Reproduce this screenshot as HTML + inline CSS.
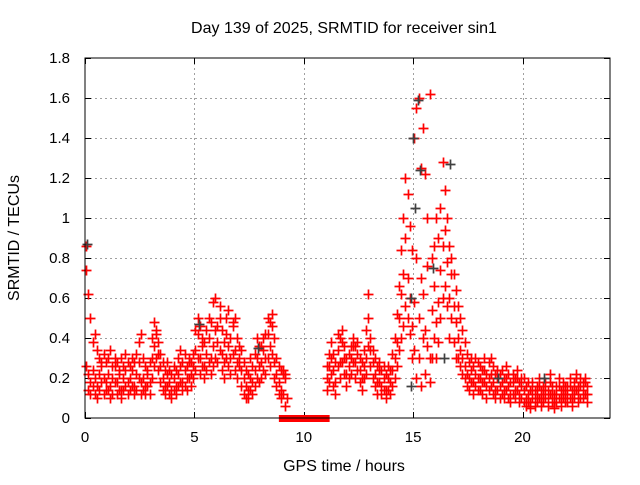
<!DOCTYPE html>
<html><head><meta charset="utf-8"><style>
body{margin:0;background:#fff}
svg text{font-family:"Liberation Sans",sans-serif;font-size:15px;fill:#000}
</style></head><body>
<svg id="chart" width="640" height="480" xmlns="http://www.w3.org/2000/svg">
<rect width="640" height="480" fill="#fff"/>
<text x="344" y="33" text-anchor="middle" style="font-size:16px">Day 139 of 2025, SRMTID for receiver sin1</text>
<text x="344" y="471" text-anchor="middle" style="font-size:16px">GPS time / hours</text>
<text transform="translate(19,238) rotate(-90)" text-anchor="middle" style="font-size:16px">SRMTID / TECUs</text>
<g id="grid"></g>
<g id="ticks"></g>
<g id="marks"></g>
<rect x="85" y="58" width="525" height="360" fill="none" stroke="#000" stroke-width="1"/>
</svg>
<script>
const xTicks=[0,5,10,15,20];
const yTicks=[0,0.2,0.4,0.6,0.8,1,1.2,1.4,1.6,1.8];
const yTickLabels=["0","0.2","0.4","0.6","0.8","1","1.2","1.4","1.6","1.8"];
const N=null;
const seriesA=[0.26,0.22,0.18,0.24,0.2,0.16,0.22,0.28,0.2,0.18,
0.22,0.16,0.2,0.26,0.18,0.22,0.14,0.2,0.24,0.18,
0.2,0.24,0.16,0.22,0.28,0.18,0.2,0.16,0.22,0.18,
0.3,0.36,0.42,0.32,0.26,0.2,0.16,0.22,0.18,0.14,
0.2,0.16,0.22,0.26,0.18,0.24,0.2,0.28,0.22,0.26,
0.34,0.42,0.3,0.36,0.26,0.32,0.4,0.3,0.36,0.44,
0.38,0.5,0.32,0.28,0.42,0.36,0.3,0.46,0.34,0.28,
0.36,0.24,0.2,0.16,0.14,0.2,0.18,0.24,0.3,0.26,
0.28,0.34,0.3,0.42,0.36,0.46,0.28,0.22,0.18,0.14,
0.22,0.2,0.1,N,N,N,N,N,N,N,
N,N,N,N,N,N,N,N,N,N,
0.2,0.26,0.3,0.24,0.18,0.34,0.28,0.38,0.3,0.22,
0.26,0.3,0.36,0.28,0.32,0.24,0.2,0.26,0.3,0.5,
0.34,0.28,0.22,0.18,0.24,0.16,0.2,0.14,0.2,0.18,
0.24,0.3,0.38,0.5,0.62,0.72,0.9,0.7,0.6,0.46,
0.58,0.8,0.5,0.7,0.62,0.44,0.76,0.3,0.54,0.66,
0.48,0.58,0.74,0.86,0.94,0.78,0.6,0.72,0.56,0.48,
0.4,0.34,0.3,0.26,0.22,0.2,0.24,0.18,0.22,0.2,
0.2,0.18,0.24,0.16,0.2,0.22,0.18,0.14,0.2,0.16,
0.18,0.14,0.2,0.16,0.12,0.18,0.14,0.2,0.12,0.16,
0.14,0.1,0.12,0.08,0.14,0.1,0.12,0.16,0.1,0.12,
0.14,0.1,0.18,0.12,0.08,0.12,0.16,0.1,0.14,0.12,
0.12,0.16,0.1,0.14,0.2,0.12,0.16,0.14,0.18,0.12];
const seriesB=[0.86,0.62,0.5,0.38,0.42,0.34,0.3,0.26,0.32,0.28,
0.3,0.34,0.26,0.3,0.28,0.24,0.3,0.26,0.32,0.28,
0.26,0.3,0.28,0.32,0.38,0.42,0.3,0.26,0.24,0.28,
0.4,0.48,0.44,0.38,0.32,0.28,0.24,0.28,0.24,0.22,
0.26,0.24,0.3,0.34,0.28,0.32,0.26,0.3,0.28,0.32,
0.44,0.5,0.46,0.4,0.38,0.44,0.5,0.48,0.58,0.6,
0.46,0.56,0.44,0.38,0.5,0.54,0.4,0.48,0.5,0.4,
0.3,0.34,0.28,0.24,0.22,0.3,0.26,0.32,0.4,0.36,
0.36,0.4,0.42,0.5,0.48,0.52,0.4,0.3,0.26,0.24,
0.24,0.22,N,N,N,N,N,N,N,N,
N,N,N,N,N,N,N,N,N,N,
0.26,0.32,0.38,0.32,0.28,0.42,0.4,0.44,0.36,0.3,
0.32,0.36,0.4,0.36,0.38,0.3,0.28,0.34,0.44,0.62,
0.4,0.34,0.3,0.26,0.28,0.24,0.26,0.22,0.26,0.24,
0.32,0.4,0.52,0.66,0.84,1.0,1.2,1.12,0.96,0.84,
1.4,1.55,1.6,1.25,1.45,1.22,1.0,1.62,0.8,0.86,
1.0,0.9,1.05,1.28,1.14,1.0,0.86,0.8,0.72,0.64,
0.56,0.5,0.44,0.38,0.32,0.28,0.3,0.26,0.3,0.28,
0.26,0.24,0.3,0.22,0.28,0.3,0.26,0.22,0.24,0.22,
0.24,0.2,0.26,0.22,0.18,0.22,0.2,0.24,0.18,0.2,
0.2,0.16,0.18,0.14,0.18,0.14,0.16,0.2,0.14,0.16,
0.18,0.14,0.22,0.16,0.12,0.16,0.2,0.14,0.18,0.16,
0.16,0.2,0.14,0.18,0.22,0.16,0.2,0.18,0.2,0.16];
const seriesC=[0.74,0.14,0.12,0.16,0.12,0.1,0.14,0.18,0.12,0.14,
0.14,0.1,0.12,0.18,0.12,0.14,0.1,0.14,0.16,0.12,
0.14,0.16,0.12,0.14,0.2,0.12,0.14,0.12,0.16,0.12,
0.2,0.26,0.3,0.24,0.18,0.14,0.12,0.16,0.12,0.1,
0.14,0.12,0.16,0.18,0.14,0.16,0.14,0.2,0.16,0.2,
0.24,0.3,0.22,0.26,0.2,0.24,0.28,0.22,0.26,0.3,
0.28,0.34,0.24,0.2,0.3,0.26,0.22,0.32,0.24,0.2,
0.26,0.16,0.12,0.1,0.1,0.14,0.12,0.16,0.2,0.18,
0.2,0.24,0.22,0.3,0.26,0.32,0.2,0.16,0.12,0.1,
0.12,0.06,N,N,N,N,N,N,N,N,
N,N,N,N,N,N,N,N,N,N,
0.14,0.18,0.22,0.16,0.12,0.26,0.2,0.28,0.22,0.16,
0.2,0.22,0.28,0.2,0.24,0.18,0.14,0.2,0.22,0.36,
0.26,0.2,0.16,0.12,0.18,0.12,0.14,0.1,0.14,0.12,
0.16,0.2,0.26,0.34,0.4,0.46,0.56,0.5,0.42,0.3,
0.34,0.2,0.3,0.16,0.4,0.22,0.36,0.18,0.3,0.4,
0.3,0.38,0.5,0.6,0.66,0.56,0.4,0.5,0.38,0.3,
0.3,0.26,0.22,0.2,0.16,0.14,0.18,0.12,0.16,0.14,
0.14,0.12,0.18,0.1,0.14,0.16,0.12,0.1,0.14,0.1,
0.12,0.1,0.14,0.1,0.08,0.12,0.1,0.14,0.08,0.1,
0.08,0.06,0.08,0.05,0.1,0.06,0.08,0.1,0.06,0.08,
0.1,0.06,0.12,0.08,0.05,0.08,0.1,0.06,0.1,0.08,
0.08,0.1,0.06,0.1,0.14,0.08,0.1,0.1,0.12,0.08];
const zeroTimes=[9.0,9.1,9.2,9.3,9.4,9.5,9.6,9.7,9.8,9.9,10.0,10.1,10.2,10.3,10.4,10.5,10.6,10.7,10.8,10.9,11.0];
const blackTimes=[0.1,15.0,15.2,15.3,15.1,16.7,15.9,14.9,16.4,7.9,18.9,21.0,5.2,14.9];
const blackValues=[0.87,1.4,1.59,1.24,1.05,1.27,0.75,0.6,0.3,0.35,0.2,0.2,0.47,0.16];
const sampleStep=0.1;

const X=t=>85+t*(525/24);
const Y=v=>418-v*200;
const NS="http://www.w3.org/2000/svg";
const grid=document.getElementById('grid'),ticks=document.getElementById('ticks'),marks=document.getElementById('marks');
function line(g,x1,y1,x2,y2,st,dash){const l=document.createElementNS(NS,'line');l.setAttribute('x1',x1);l.setAttribute('y1',y1);l.setAttribute('x2',x2);l.setAttribute('y2',y2);l.setAttribute('stroke',st);if(dash)l.setAttribute('stroke-dasharray',dash);g.appendChild(l);return l;}
function txt(x,y,s,anchor){const t=document.createElementNS(NS,'text');t.setAttribute('x',x);t.setAttribute('y',y);t.setAttribute('text-anchor',anchor);t.textContent=s;ticks.appendChild(t);return t;}
yTicks.forEach((v,i)=>{const y=Y(v)+0.5;
 if(v>0&&v<1.8){const g=line(grid,85,y,610,y,'#a0a0a0','2,3');}
 line(ticks,85,y,91,y,'#000');line(ticks,604,y,610,y,'#000');
 const t=txt(70,Y(v)+5,yTickLabels[i],'end');
 
 });
xTicks.forEach(v=>{const x=Math.round(X(v))+0.5;
 if(v>0){const g=line(grid,x,58,x,418,'#a0a0a0','2,3');}
 line(ticks,x,418,x,412,'#000');line(ticks,x,58,x,64,'#000');
 const t=txt(X(v),442,String(v),'middle');
 
 });
function plus(t,v,col,name){const x=Math.round(X(t))+0.5,y=Math.round(Y(v))+0.5;
 const p=document.createElementNS(NS,'path');p.setAttribute('d',`M${x-5} ${y}H${x+5}M${x} ${y-5}V${y+5}`);p.setAttribute('stroke',col);p.setAttribute('stroke-width','1.7');
 
 
 marks.appendChild(p);}
[seriesA,seriesB,seriesC].forEach(s=>s.forEach((v,i)=>{if(v!==null)plus(0.05+i*sampleStep,v,'#ff0000','srmtid-point');}));
blackTimes.forEach((t,i)=>plus(t,blackValues[i],'#404040','srmtid-point-dark'));
zeroTimes.forEach(t=>{const r=document.createElementNS(NS,'rect');r.setAttribute('x',X(t)-3);r.setAttribute('y',415);r.setAttribute('width',7);r.setAttribute('height',7);r.setAttribute('fill','#ff0000');
 
 
 marks.appendChild(r);});
</script>
</body></html>
